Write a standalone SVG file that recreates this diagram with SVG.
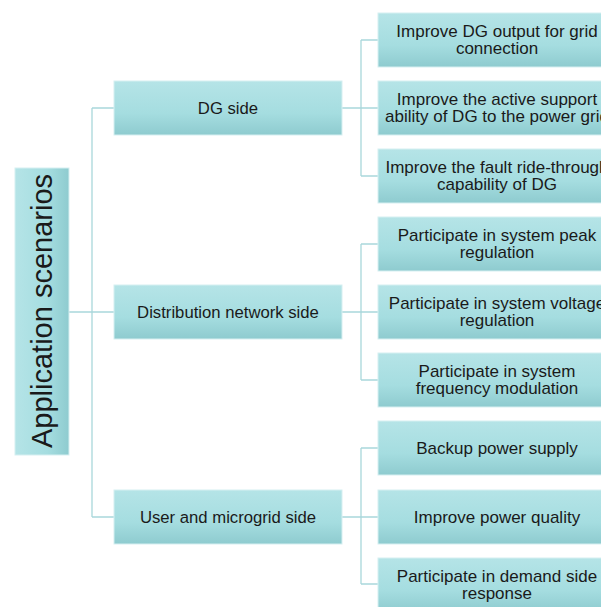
<svg xmlns="http://www.w3.org/2000/svg" width="601" height="607" viewBox="0 0 601 607">
<defs>
<linearGradient id="g" x1="0" y1="0" x2="0" y2="1">
<stop offset="0" stop-color="#b5e4e7"/>
<stop offset="0.6" stop-color="#a5dde0"/>
<stop offset="1" stop-color="#8ecbcf"/>
</linearGradient>
<linearGradient id="gr" x1="0" y1="0" x2="1" y2="0">
<stop offset="0" stop-color="#b5e4e7"/>
<stop offset="0.6" stop-color="#a5dde0"/>
<stop offset="1" stop-color="#8ecbcf"/>
</linearGradient>
</defs>
<style>
.box{fill:url(#g);stroke:#d6eff1;stroke-width:1}
.t{font-family:"Liberation Sans",Arial,sans-serif;font-size:17px;fill:#1a1a1a;text-anchor:middle}
.m{font-size:16.7px}
.c{fill:none;stroke:#a9d7db;stroke-width:1.3}
</style>
<rect width="601" height="607" fill="#fff"/>
<g id="connectors">
<path class="c" d="M69 312H114M92 108V517M92 108H114M92 517H114"/>
<path class="c" d="M342 108H378M361 40V176M361 40H378M361 176H378"/>
<path class="c" d="M342 312H378M361 244V380M361 244H378M361 380H378"/>
<path class="c" d="M342 517H378M361 448V584M361 448H378M361 584H378"/>
</g>
<g id="root">
<rect x="15" y="168" width="54" height="287" fill="url(#gr)" stroke="#d6eff1"/>
<text class="t" transform="translate(52,311) rotate(-90)" style="font-size:29px">Application scenarios</text>
</g>
<g id="dg">
<rect class="box" x="114" y="81" width="228" height="54"/>
<text class="t m" x="228" y="114">DG side</text>
</g>
<g id="dist">
<rect class="box" x="114" y="285" width="228" height="54"/>
<text class="t m" x="228" y="318">Distribution network side</text>
</g>
<g id="user">
<rect class="box" x="114" y="490" width="228" height="54"/>
<text class="t m" x="228" y="523">User and microgrid side</text>
</g>
<g id="l1"><rect class="box" x="378" y="13" width="240" height="54"/><text class="t" x="497" y="37">Improve DG output for grid</text><text class="t" x="497" y="54">connection</text></g>
<g id="l2"><rect class="box" x="378" y="81" width="240" height="54"/><text class="t" x="497" y="105">Improve the active support</text><text class="t" x="497" y="122">ability of DG to the power grid</text></g>
<g id="l3"><rect class="box" x="378" y="149" width="240" height="54"/><text class="t" x="497" y="173">Improve the fault ride-through</text><text class="t" x="497" y="190">capability of DG</text></g>
<g id="l4"><rect class="box" x="378" y="217" width="240" height="54"/><text class="t" x="497" y="241">Participate in system peak</text><text class="t" x="497" y="258">regulation</text></g>
<g id="l5"><rect class="box" x="378" y="285" width="240" height="54"/><text class="t" x="497" y="309">Participate in system voltage</text><text class="t" x="497" y="326">regulation</text></g>
<g id="l6"><rect class="box" x="378" y="353" width="240" height="54"/><text class="t" x="497" y="377">Participate in system</text><text class="t" x="497" y="394">frequency modulation</text></g>
<g id="l7"><rect class="box" x="378" y="421" width="240" height="54"/><text class="t" x="497" y="454">Backup power supply</text></g>
<g id="l8"><rect class="box" x="378" y="490" width="240" height="54"/><text class="t" x="497" y="523">Improve power quality</text></g>
<g id="l9"><rect class="box" x="378" y="558" width="240" height="54"/><text class="t" x="497" y="582">Participate in demand side</text><text class="t" x="497" y="599">response</text></g>
</svg>
